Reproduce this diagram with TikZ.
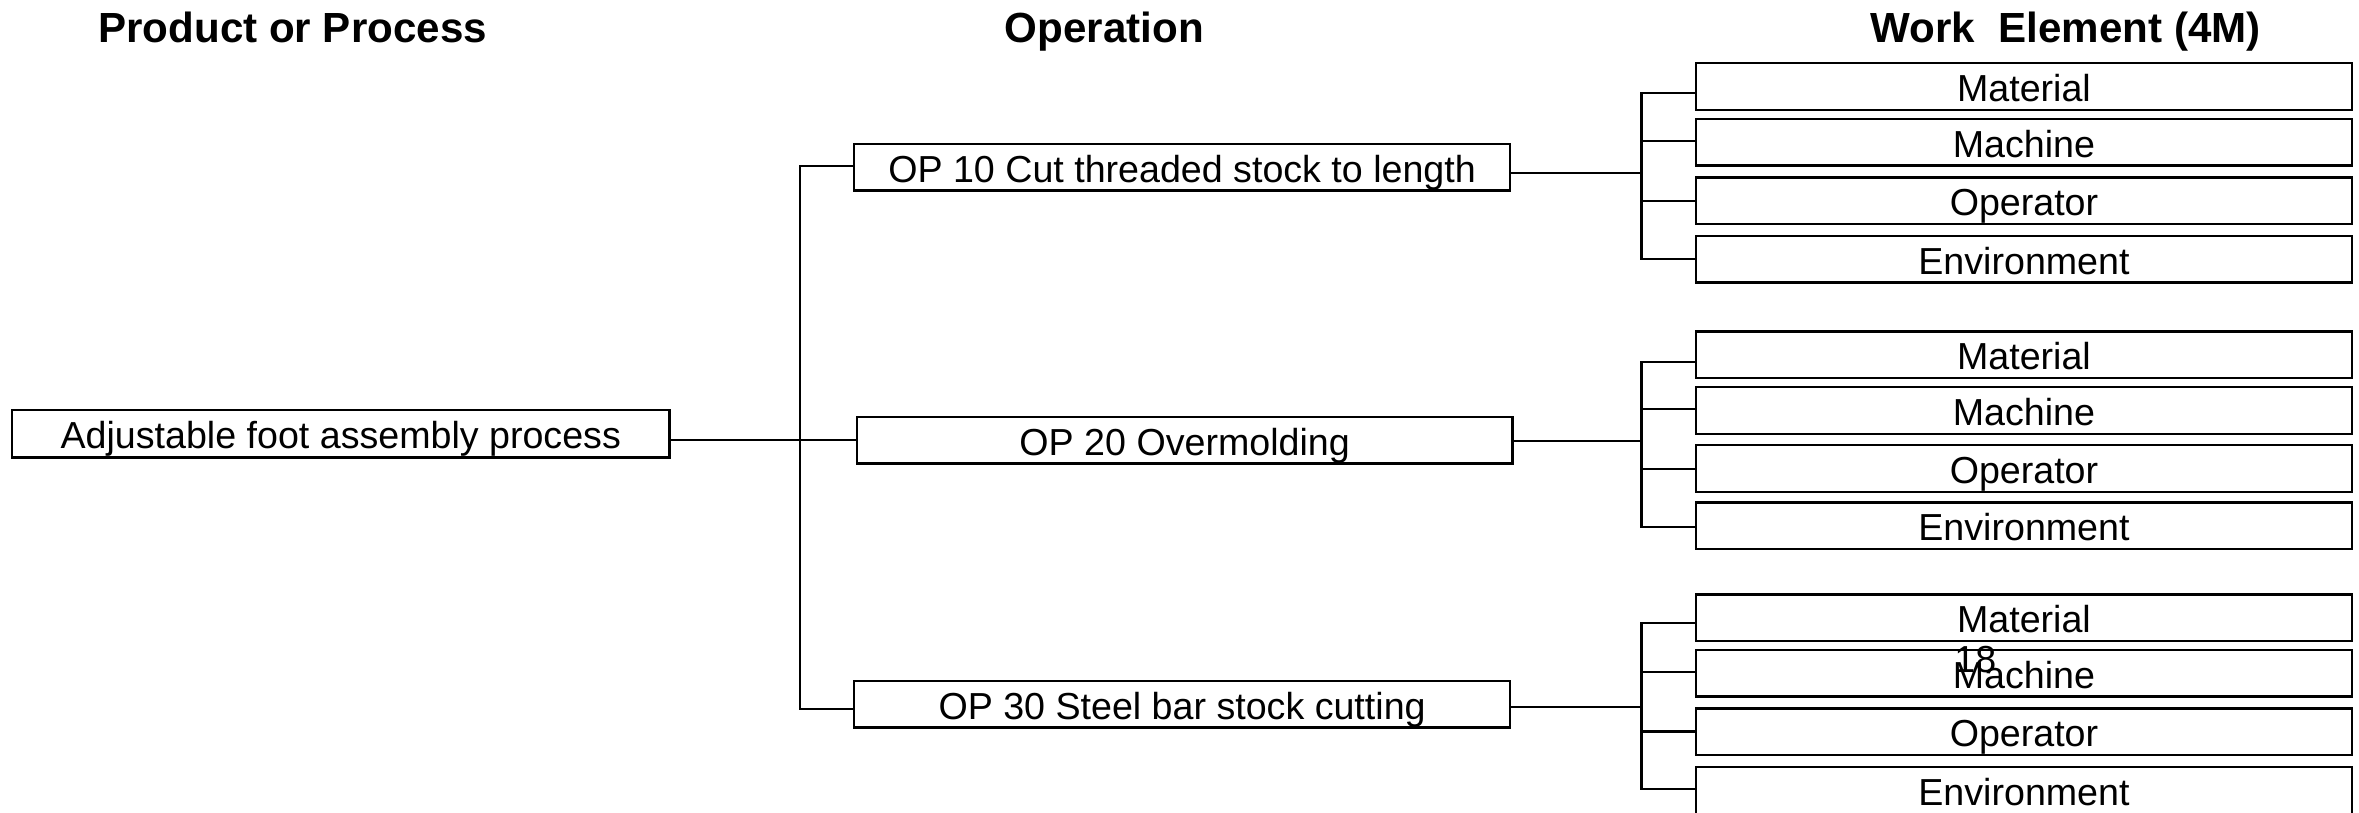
\documentclass[tikz,border=0pt]{standalone}
\usepackage{fontspec}
\setmainfont{Liberation Sans}
\begin{document}
\begin{tikzpicture}[x=1pt,y=-1pt,
  box/.style={draw, line width=1.5pt, inner sep=0pt, minimum width=436pt,
    minimum height=31pt, text height=20pt, text depth=0pt,
    font=\fontsize{25}{28}\selectfont},
  heading/.style={anchor=base, font=\fontsize{28}{32}\selectfont\bfseries},
  plain/.style={anchor=base, font=\fontsize{25}{28}\selectfont},
  link/.style={line width=1.5pt}]
\useasboundingbox (0,0) rectangle (1568,540);

% column headings
\node[heading] (hprod) at (194.5,28.4) {Product or Process};
\node[heading] (hop)   at (734,28.4)   {Operation};
\node[heading] (hwe)   at (1373,28.4)  {Work~~Element (4M)};

% process and operations
\node[box, minimum width=437pt, minimum height=31.5pt] (prod) at (226.5,288.3)
  {Adjustable foot assembly process};
\node[box] (op1) at (785.7,111.2) {OP 10 Cut threaded stock to length};
\node[box] (op2) at (787.4,292.6) {OP 20 Overmolding};
\node[box] (op3) at (785.7,468.1) {OP 30 Steel bar stock cutting};

% process -> operations
\coordinate (s1) at (531.5,110.3);
\coordinate (s2) at (531.5,292.5);
\coordinate (s3) at (531.5,471.5);
\draw[link] (op1.west |- s1) -- (s1) -- (s3) -- (op3.west |- s3);
\draw[link] (prod.east |- s2) -- (op2.west |- s2);

% operations -> work elements (4M)
\foreach \g/\cy/\ba/\bb/\bc/\bd/\ca/\cb/\cc/\cd in {
    1/114.8/62/93.8/133.5/172.3/57.4/94.5/133.4/172.2,
    2/293/240.4/272/311.9/350.5/235.8/272.8/311.3/349.5,
    3/470/414.3/446.5/486.3/524.6/410.6/447.5/486.5/525.5}{
  \node[box] (w\g a) at (1345.3,\ca) {Material};
  \node[box] (w\g b) at (1345.3,\cb) {Machine};
  \node[box] (w\g c) at (1345.3,\cc) {Operator};
  \node[box] (w\g d) at (1345.3,\cd) {Environment};
  \coordinate (k\g) at (1091,\cy);
  \coordinate (t\g a) at (1091,\ba);
  \coordinate (t\g b) at (1091,\bb);
  \coordinate (t\g c) at (1091,\bc);
  \coordinate (t\g d) at (1091,\bd);
  \draw[link] (op\g.east |- k\g) -- (k\g);
  \draw[link] (w\g a.west |- t\g a) -- (t\g a) -- (t\g d) -- (w\g d.west |- t\g d);
  \draw[link] (t\g b) -- (w\g b.west |- t\g b);
  \draw[link] (t\g c) -- (w\g c.west |- t\g c);
}

% page number
\node[plain] (pagenum) at (1313,447) {18};
\end{tikzpicture}
\end{document}
